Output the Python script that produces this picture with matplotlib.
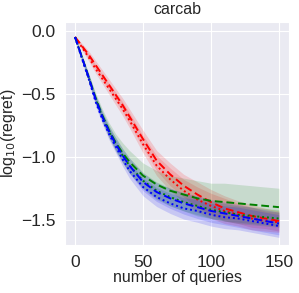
import matplotlib
matplotlib.use("Agg")
import matplotlib.pyplot as plt
import numpy as np
import seaborn as sns

sns.set_style("darkgrid")
plt.rcParams['font.family'] = ['Liberation Sans', 'DejaVu Sans']

queries = [0, 5, 10, 15, 20, 25, 30, 35, 40, 50, 60, 70, 80, 90, 100, 110, 120, 130, 140, 150]

red_dashed = [-0.05, -0.12, -0.19, -0.27, -0.35, -0.43, -0.51, -0.59, -0.68, -0.86, -1.03, -1.14, -1.23, -1.30, -1.36, -1.41, -1.44, -1.47, -1.49, -1.51]
red_dotted = [-0.05, -0.13, -0.21, -0.30, -0.38, -0.46, -0.54, -0.62, -0.71, -0.90, -1.07, -1.18, -1.27, -1.34, -1.39, -1.43, -1.46, -1.49, -1.51, -1.52]
green_dashed = [-0.05, -0.21, -0.37, -0.53, -0.67, -0.79, -0.89, -0.97, -1.04, -1.15, -1.22, -1.27, -1.30, -1.33, -1.35, -1.36, -1.37, -1.38, -1.39, -1.40]
green_dotted = [-0.05, -0.21, -0.37, -0.54, -0.68, -0.80, -0.90, -0.99, -1.07, -1.19, -1.27, -1.32, -1.36, -1.39, -1.42, -1.44, -1.46, -1.47, -1.48, -1.49]
blue_dashed = [-0.05, -0.21, -0.37, -0.54, -0.68, -0.80, -0.90, -0.99, -1.07, -1.20, -1.28, -1.33, -1.37, -1.40, -1.43, -1.45, -1.47, -1.49, -1.51, -1.53]
blue_dotted = [-0.05, -0.22, -0.38, -0.56, -0.70, -0.82, -0.92, -1.02, -1.11, -1.24, -1.32, -1.37, -1.41, -1.43, -1.46, -1.48, -1.49, -1.51, -1.53, -1.55]

red_std = [0.01, 0.02, 0.03, 0.035, 0.04, 0.045, 0.05, 0.055, 0.06, 0.07, 0.08, 0.09, 0.09, 0.10, 0.10, 0.10, 0.09, 0.09, 0.08, 0.08]
green_dashed_std = [0.01, 0.02, 0.03, 0.04, 0.05, 0.06, 0.07, 0.08, 0.09, 0.10, 0.11, 0.12, 0.13, 0.14, 0.14, 0.15, 0.15, 0.15, 0.15, 0.15]
green_dotted_std = [0.01, 0.02, 0.03, 0.035, 0.04, 0.045, 0.05, 0.055, 0.06, 0.065, 0.07, 0.07, 0.07, 0.07, 0.07, 0.07, 0.07, 0.07, 0.07, 0.07]
blue_std = [0.01, 0.02, 0.03, 0.035, 0.04, 0.045, 0.05, 0.055, 0.06, 0.07, 0.075, 0.08, 0.085, 0.09, 0.09, 0.09, 0.09, 0.09, 0.09, 0.09]

series = [
    (red_dashed, red_std, 'red', (0, (4, 2))),
    (red_dotted, red_std, 'red', (0, (1, 1.5))),
    (green_dashed, green_dashed_std, 'green', (0, (4, 2))),
    (green_dotted, green_dotted_std, 'green', (0, (1, 1.5))),
    (blue_dashed, blue_std, 'blue', (0, (4, 2))),
    (blue_dotted, blue_std, 'blue', (0, (1, 1.5))),
]

fig = plt.figure(figsize=(2.99, 2.93), dpi=100)
ax = fig.add_axes([0.217, 0.164, 0.75, 0.761])

x = np.array(queries)
for mean, std, col, ls in series:
    m = np.array(mean)
    s = np.array(std)
    ax.fill_between(x, m - s, m + s, color=col, alpha=0.15, linewidth=0)
    ax.plot(x, m, color=col, linestyle=ls, linewidth=1.4)

ax.set_xticks([0, 50, 100, 150])
ax.set_yticks([0.0, -0.5, -1.0, -1.5])
ax.set_xlim(-7.5, 157.5)
ax.set_ylim(-1.70, 0.07)
ax.tick_params(labelsize=12.5)
ax.set_title("carcab", fontsize=11.5)
ax.set_xlabel("number of queries", fontsize=11.5, labelpad=0)
ax.set_ylabel("log$_{10}$(regret)", fontsize=11.5, labelpad=2)

fig.savefig("out.png", dpi=100)
